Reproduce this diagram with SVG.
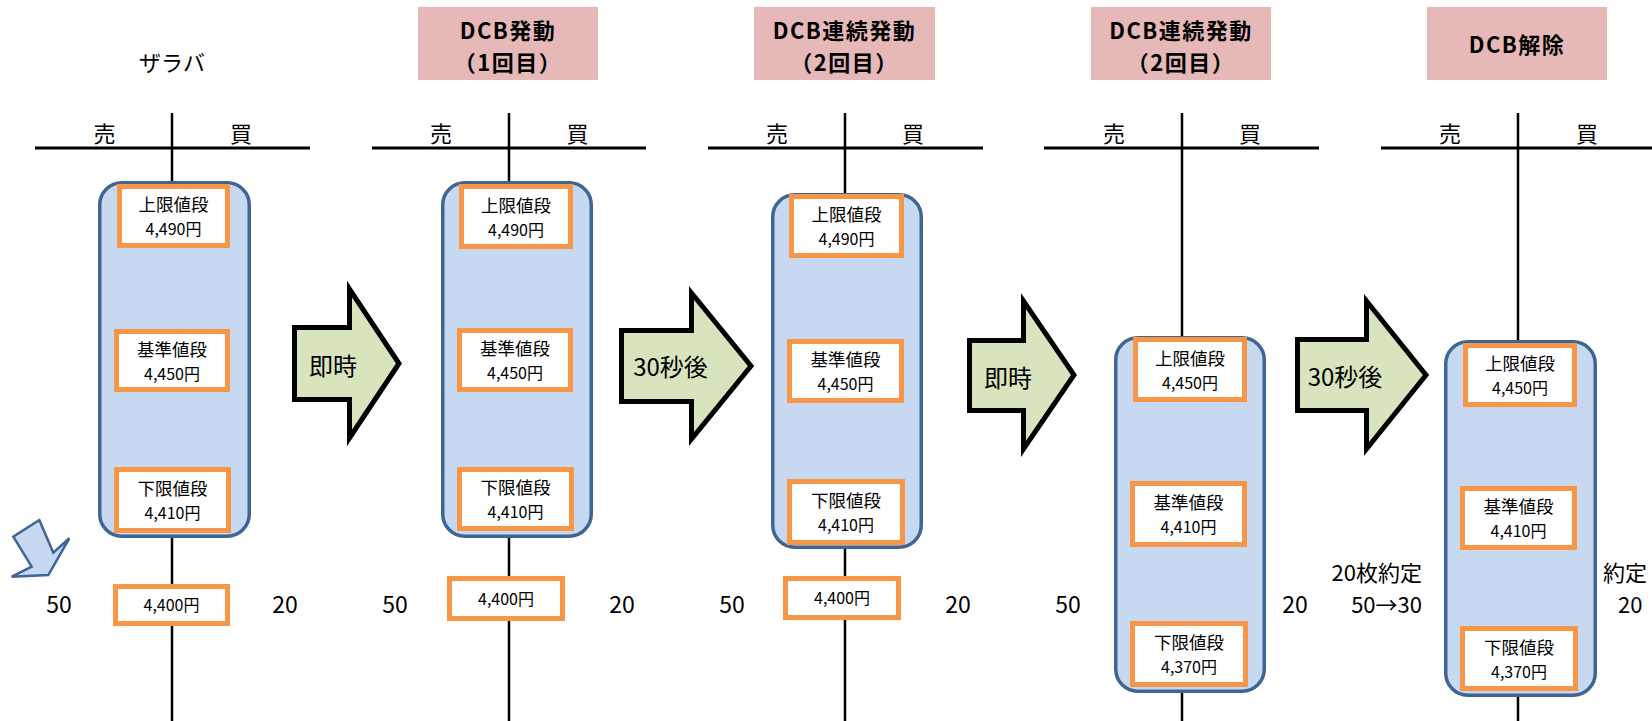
<svg xmlns="http://www.w3.org/2000/svg" width="1652" height="721" viewBox="0 0 1652 721">
<style>
text{font-family:"Noto Sans CJK JP","Noto Sans",sans-serif;fill:#000}
.ln{stroke:#000;stroke-width:2.5;fill:none}
.hl{stroke:#000;stroke-width:3;fill:none}
.blue{fill:#C6D9F1;stroke:#3F6594;stroke-width:3.5}
.ob{fill:#fff;stroke:#F79646;stroke-width:5}
.pink{fill:#E6B9B8}
.arr{fill:#D7E4BD;stroke:#000;stroke-width:5}
.t1{font-size:17.5px;text-anchor:middle}
.t2{font-size:16px;text-anchor:middle}
.side{font-size:22px;text-anchor:middle}
.num{font-size:23px;text-anchor:middle}
.ttl{font-size:22px;font-weight:bold;text-anchor:middle;letter-spacing:1.5px}
.at{font-size:24px;text-anchor:middle}
.note{font-size:22px}
</style>

<g id="panel1">
  <text x="172" y="71" class="side">ザラバ</text>
  <line x1="35" y1="148" x2="310" y2="148" class="hl"/>
  <line x1="172" y1="113" x2="172" y2="721" class="ln"/>
  <text x="104.5" y="142" class="side">売</text>
  <text x="241" y="142" class="side">買</text>
  <rect x="99.75" y="182.75" width="149.5" height="353.5" rx="22" class="blue"/>
  <rect x="119.5" y="186.5" width="108" height="59" class="ob"/>
  <text x="173.5" y="211" class="t1">上限値段</text>
  <text x="173.5" y="235" class="t2">4,490円</text>
  <rect x="116.5" y="331.5" width="111" height="58" class="ob"/>
  <text x="172" y="355.5" class="t1">基準値段</text>
  <text x="172" y="379.5" class="t2">4,450円</text>
  <rect x="116.5" y="469.5" width="112" height="61" class="ob"/>
  <text x="172.5" y="495" class="t1">下限値段</text>
  <text x="172.5" y="519" class="t2">4,410円</text>
  <rect x="115.5" y="586.5" width="112" height="37" class="ob"/>
  <text x="171.5" y="611" class="t2">4,400円</text>
  <text x="59" y="613" class="num">50</text>
  <text x="285" y="613" class="num">20</text>
  <path d="M39.3,520 L53.3,552.7 L69.3,538.3 L48.3,575 L11.7,576.7 L31.7,566.7 L13.3,536.7 Z" fill="#C6D9F1" stroke="#3F6594" stroke-width="2.5" stroke-linejoin="miter"/>
</g>

<g id="panel2">
  <rect x="418" y="7" width="180" height="73" class="pink"/>
  <text x="508" y="39" class="ttl">DCB発動</text>
  <text x="508" y="71" class="ttl">（1回目）</text>
  <line x1="372" y1="148" x2="646" y2="148" class="hl"/>
  <line x1="509" y1="113" x2="509" y2="721" class="ln"/>
  <text x="441" y="142" class="side">売</text>
  <text x="577.5" y="142" class="side">買</text>
  <rect x="442.75" y="182.75" width="148.5" height="353.5" rx="22" class="blue"/>
  <rect x="461.5" y="186.5" width="109" height="60" class="ob"/>
  <text x="516" y="211.5" class="t1">上限値段</text>
  <text x="516" y="235.5" class="t2">4,490円</text>
  <rect x="459.5" y="330.5" width="111" height="59" class="ob"/>
  <text x="515" y="355" class="t1">基準値段</text>
  <text x="515" y="379" class="t2">4,450円</text>
  <rect x="459.5" y="469.5" width="112" height="59" class="ob"/>
  <text x="515.5" y="494" class="t1">下限値段</text>
  <text x="515.5" y="518" class="t2">4,410円</text>
  <rect x="449.5" y="578.5" width="113" height="40" class="ob"/>
  <text x="506" y="604.5" class="t2">4,400円</text>
  <text x="395" y="613" class="num">50</text>
  <text x="622" y="613" class="num">20</text>
</g>

<g id="panel3">
  <rect x="754" y="7" width="181" height="73" class="pink"/>
  <text x="844.5" y="39" class="ttl">DCB連続発動</text>
  <text x="844.5" y="71" class="ttl">（2回目）</text>
  <line x1="708" y1="148" x2="983" y2="148" class="hl"/>
  <line x1="845" y1="113" x2="845" y2="721" class="ln"/>
  <text x="777" y="142" class="side">売</text>
  <text x="913" y="142" class="side">買</text>
  <rect x="772.75" y="194.75" width="148.5" height="352.5" rx="22" class="blue"/>
  <rect x="791.5" y="196.5" width="110" height="59" class="ob"/>
  <text x="846.5" y="221" class="t1">上限値段</text>
  <text x="846.5" y="245" class="t2">4,490円</text>
  <rect x="789.5" y="341.5" width="112" height="59" class="ob"/>
  <text x="845.5" y="366" class="t1">基準値段</text>
  <text x="845.5" y="390" class="t2">4,450円</text>
  <rect x="789.5" y="481.5" width="113" height="61" class="ob"/>
  <text x="846" y="507" class="t1">下限値段</text>
  <text x="846" y="531" class="t2">4,410円</text>
  <rect x="785.5" y="578.5" width="113" height="39" class="ob"/>
  <text x="842" y="604" class="t2">4,400円</text>
  <text x="732" y="613" class="num">50</text>
  <text x="958" y="613" class="num">20</text>
</g>

<g id="panel4">
  <rect x="1091" y="7" width="180" height="73" class="pink"/>
  <text x="1181" y="39" class="ttl">DCB連続発動</text>
  <text x="1181" y="71" class="ttl">（2回目）</text>
  <line x1="1044" y1="148" x2="1319" y2="148" class="hl"/>
  <line x1="1182" y1="113" x2="1182" y2="721" class="ln"/>
  <text x="1114" y="142" class="side">売</text>
  <text x="1250" y="142" class="side">買</text>
  <rect x="1115.75" y="337.75" width="148.5" height="353.5" rx="22" class="blue"/>
  <rect x="1135.5" y="339.5" width="109" height="60" class="ob"/>
  <text x="1190" y="364.5" class="t1">上限値段</text>
  <text x="1190" y="388.5" class="t2">4,450円</text>
  <rect x="1132.5" y="483.5" width="112" height="61" class="ob"/>
  <text x="1188.5" y="509" class="t1">基準値段</text>
  <text x="1188.5" y="533" class="t2">4,410円</text>
  <rect x="1132.5" y="623.5" width="113" height="61" class="ob"/>
  <text x="1189" y="649" class="t1">下限値段</text>
  <text x="1189" y="673" class="t2">4,370円</text>
  <text x="1068" y="613" class="num">50</text>
  <text x="1295" y="613" class="num">20</text>
  <text x="1422" y="580.5" class="note" text-anchor="end">20枚約定</text>
  <text x="1422" y="613" class="note" text-anchor="end">50→30</text>
</g>

<g id="panel5">
  <rect x="1427" y="7" width="180" height="73" class="pink"/>
  <text x="1517" y="53" class="ttl">DCB解除</text>
  <line x1="1381" y1="148" x2="1652" y2="148" class="hl"/>
  <line x1="1518" y1="113" x2="1518" y2="721" class="ln"/>
  <text x="1450" y="142" class="side">売</text>
  <text x="1587" y="142" class="side">買</text>
  <rect x="1445.75" y="341.75" width="149.5" height="353.5" rx="22" class="blue"/>
  <rect x="1465.5" y="345.5" width="109" height="59" class="ob"/>
  <text x="1520" y="370" class="t1">上限値段</text>
  <text x="1520" y="394" class="t2">4,450円</text>
  <rect x="1462.5" y="488.5" width="112" height="59" class="ob"/>
  <text x="1518.5" y="513" class="t1">基準値段</text>
  <text x="1518.5" y="537" class="t2">4,410円</text>
  <rect x="1462.5" y="628.5" width="113" height="60" class="ob"/>
  <text x="1519" y="653.5" class="t1">下限値段</text>
  <text x="1519" y="677.5" class="t2">4,370円</text>
  <text x="1603" y="580.5" class="note">約定</text>
  <text x="1618" y="613" class="note">20</text>
</g>

<g id="connectors">
  <g id="arrow1">
    <path d="M294.5,327.5 H349.5 V289 L399,363.5 L349.5,438 V399.5 H294.5 Z" class="arr"/>
    <text x="333" y="375" class="at">即時</text>
  </g>
  <g id="arrow2">
    <path d="M621.5,330.5 H691.5 V293 L751,366 L691.5,439 V401.5 H621.5 Z" class="arr"/>
    <text x="670.5" y="376" class="at">30秒後</text>
  </g>
  <g id="arrow3">
    <path d="M969.5,340.5 H1023.5 V301 L1074,375 L1023.5,449 V410.5 H969.5 Z" class="arr"/>
    <text x="1008" y="387" class="at">即時</text>
  </g>
  <g id="arrow4">
    <path d="M1297.5,339.5 H1366.5 V301 L1426,375 L1366.5,449 V410.5 H1297.5 Z" class="arr"/>
    <text x="1345" y="386" class="at">30秒後</text>
  </g>
</g>
</svg>
